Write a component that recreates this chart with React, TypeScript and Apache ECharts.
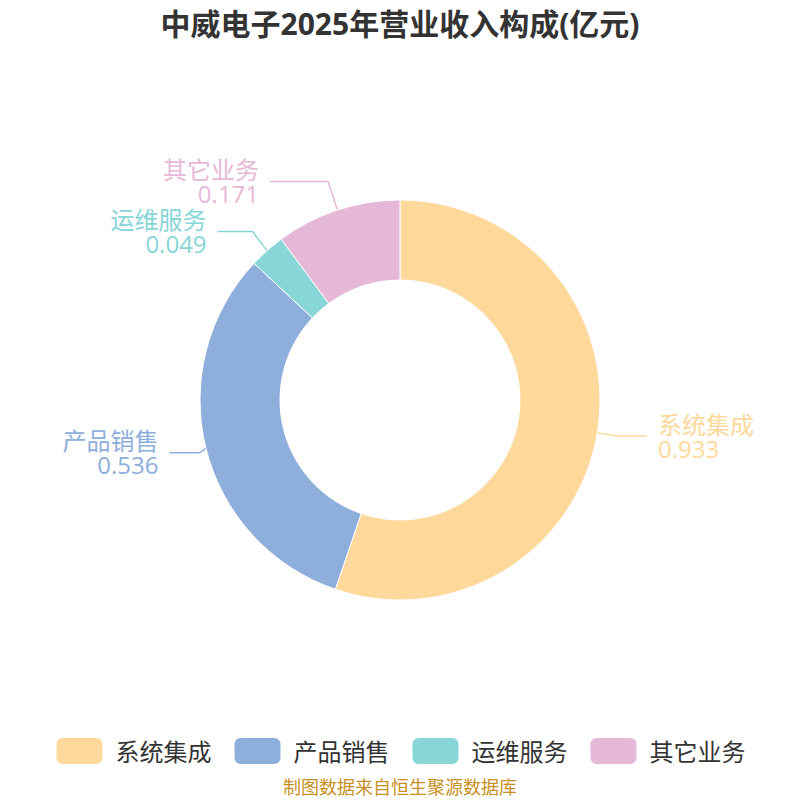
import { useEffect, useRef } from 'react';
import * as echarts from 'echarts';

const categories = ['系统集成', '产品销售', '运维服务', '其它业务'];
const values = [0.933, 0.536, 0.049, 0.171];
const colors = ['#fed99b', '#8eaedb', '#88d6d8', '#e6b8d8'];
// label-line segments per slice
const lineLengths = [20, 18, 28, 30];
const lineLengths2 = [30, 30, 35, 58];

const titleText = '中威电子2025年营业收入构成(亿元)';
const sourceText = '制图数据来自恒生聚源数据库';

const fontFamily = '"Open Sans", "Noto Sans CJK SC", sans-serif';

export default function App() {
  const chartRef = useRef<HTMLDivElement>(null);

  useEffect(() => {
    if (!chartRef.current) return;
    const chart = echarts.init(chartRef.current, undefined, { renderer: 'svg' });

    const option: echarts.EChartsOption = {
      animation: false,
      backgroundColor: '#ffffff',
      color: colors,
      title: {
        text: titleText,
        left: 'center',
        top: 3,
        textStyle: { fontSize: 30, fontWeight: 'bold', color: '#333333', fontFamily },
      },
      legend: {
        bottom: 29,
        left: 'center',
        itemWidth: 48,
        itemHeight: 28,
        itemGap: 21,
        icon: 'roundRect',
        textStyle: { fontSize: 24, color: '#333333', fontFamily, padding: [0, 0, 0, 7] },
        data: categories,
      },
      graphic: [
        {
          type: 'text',
          left: 'center',
          top: 778,
          style: {
            text: sourceText,
            fontSize: 18,
            fill: '#c8901e',
            fontFamily,
          },
        },
      ],
      series: [
        {
          type: 'pie',
          center: ['50%', '50%'],
          radius: ['30%', '50%'],
          startAngle: 90,
          clockwise: true,
          label: {
            formatter: '{b}\n{c}',
            fontSize: 24,
            lineHeight: 24,
            fontFamily,
            color: 'inherit',
            distanceToLabelLine: 11,
          },
          labelLine: {
            length: 18,
            length2: 30,
            lineStyle: { width: 1.5 },
          },
          itemStyle: { borderColor: '#ffffff', borderWidth: 1 },
          data: categories.map((name, i) => ({
            name,
            value: values[i],
            labelLine: { length: lineLengths[i], length2: lineLengths2[i] },
          })),
        },
      ],
    };

    chart.setOption(option);
    return () => chart.dispose();
  }, []);

  return (
    <div
      ref={chartRef}
      style={{ position: 'fixed', left: 0, top: 0, width: '800px', height: '800px' }}
    />
  );
}
